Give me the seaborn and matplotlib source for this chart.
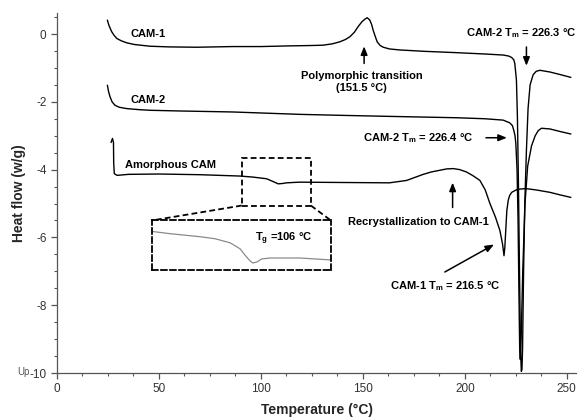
import numpy as np
import pandas as pd
import matplotlib
matplotlib.use("Agg")
import matplotlib.pyplot as plt
from matplotlib.patches import Rectangle
import seaborn as sns

# ---------------- data ----------------
cam1_T = [24.7, 25.5, 26.8, 28, 29.3, 31.5, 34.2, 38, 45.6, 55, 68.5, 86.3, 100, 114, 124,
          130.4, 135, 138.7, 141.5, 143.6, 145.8, 147.7, 149.5, 151, 152.1, 153.4, 154.3, 155,
          156, 157, 158.5, 160, 163, 168, 180, 195.9, 210, 218.8, 221.5, 222.9, 224, 224.5,
          225.3, 225.8, 226.3, 226.8, 227.3, 227.7, 228.0, 228.3, 228.8, 229.4, 230.2, 231,
          232, 233.5, 235, 236.8, 241.7, 247, 252]
cam1_HF = [0.41, 0.25, 0.07, -0.04, -0.13, -0.2, -0.26, -0.31, -0.36, -0.38, -0.39, -0.37,
           -0.37, -0.35, -0.34, -0.33, -0.29, -0.23, -0.16, -0.08, 0.05, 0.22, 0.36, 0.44,
           0.48, 0.41, 0.28, 0.12, -0.06, -0.23, -0.34, -0.39, -0.44, -0.47, -0.51, -0.55,
           -0.59, -0.62, -0.65, -0.69, -0.76, -0.87, -1.36, -2.5, -4.5, -7.0, -9.3, -9.95,
           -9.9, -9.3, -7.0, -5.0, -3.43, -2.2, -1.5, -1.2, -1.1, -1.07, -1.12, -1.2, -1.28]

cam2_T = [24.7, 25.3, 26, 27, 28.4, 30.5, 34.2, 40, 45.6, 60, 86.3, 119, 140, 163.2, 196,
          210, 218.8, 222, 223.3, 224, 224.6, 225, 225.6, 226.1, 226.5, 226.9, 227.2, 227.6,
          228.4, 229.5, 230.8, 232.7, 234.5, 236, 237.6, 241.7, 247, 252]
cam2_HF = [-1.51, -1.7, -1.85, -2.0, -2.1, -2.16, -2.2, -2.23, -2.25, -2.27, -2.3, -2.37,
           -2.4, -2.43, -2.47, -2.5, -2.54, -2.62, -2.7, -2.84, -3.0, -3.23, -4.0, -5.5, -7.5,
           -9.3, -9.6, -9.0, -7.0, -5.0, -3.9, -3.3, -3.0, -2.85, -2.78, -2.8, -2.88, -2.95]

amor_T = [26.5, 27.2, 27.7, 27.8, 28.1, 29.5, 35, 50, 70, 89.7, 96, 102.8, 105.5, 108.5,
          110.5, 112.6, 119, 140, 163, 171.4, 175.5, 179.6, 183.5, 187.7, 191, 194.3, 197.5,
          200.8, 204, 207.4, 210, 212.3, 215, 217.2, 218.5, 219.2, 219.6, 220.1, 220.6,
          221.3, 222, 223, 224.5, 226, 229.9, 235, 241.7, 247, 252]
amor_HF = [-3.2, -3.08, -3.2, -3.8, -4.12, -4.17, -4.14, -4.13, -4.15, -4.19, -4.22, -4.27,
           -4.34, -4.42, -4.41, -4.39, -4.37, -4.38, -4.39, -4.32, -4.23, -4.14, -4.07, -4.02,
           -3.98, -3.97, -4.0, -4.07, -4.18, -4.32, -4.6, -5.0, -5.4, -5.8, -6.2, -6.54, -6.3,
           -5.75, -5.2, -4.9, -4.76, -4.67, -4.62, -4.58, -4.56, -4.6, -4.67, -4.75, -4.82]

# magnified glass-transition region of amorphous CAM (inset)
inset_T = [90.8, 94.0, 99.7, 102.5, 105.4, 107.3, 108.2, 109.2, 109.7, 110.5, 111.4, 113.0,
           118.6, 124.5]
inset_HF = [-4.212, -4.228, -4.251, -4.266, -4.297, -4.343, -4.389, -4.435, -4.450, -4.442,
            -4.419, -4.412, -4.412, -4.427]

curve_labels = ["CAM-1", "CAM-2", "Amorphous CAM"]
x_ticks = [0, 50, 100, 150, 200, 250]
y_ticks = [0, -2, -4, -6, -8, -10]

# ---------------- style ----------------
sns.set_style("ticks")
plt.rcParams["font.family"] = ["Liberation Sans", "DejaVu Sans"]
plt.rcParams["axes.unicode_minus"] = False
plt.rcParams["mathtext.fontset"] = "custom"
plt.rcParams["mathtext.rm"] = "Liberation Sans"
plt.rcParams["mathtext.bf"] = "Liberation Sans:bold"

fig = plt.figure(figsize=(5.77, 4.2), dpi=100)
ax = fig.add_axes([57 / 577, 47 / 420, 520 / 577, 360 / 420])

frames = [
    pd.DataFrame({"T": cam1_T, "HF": cam1_HF}),
    pd.DataFrame({"T": cam2_T, "HF": cam2_HF}),
    pd.DataFrame({"T": amor_T, "HF": amor_HF}),
]
for df in frames:
    sns.lineplot(data=df, x="T", y="HF", ax=ax, sort=False, estimator=None,
                 color="black", lw=1.0)

ax.set_xlim(0, 255)
ax.set_ylim(-10, 0.62)
ax.set_xticks(x_ticks)
ax.set_yticks(y_ticks)
ax.set_xticks(np.arange(0, 255, 12.5), minor=True)
ax.set_yticks(np.arange(-10, 0.6, 0.5), minor=True)
ax.tick_params(axis="both", which="major", length=4, width=0.9, color="#555",
               labelsize=8.5, labelcolor="#333")
ax.tick_params(axis="both", which="minor", length=2.5, width=0.8, color="#555")
for s in ["top", "right"]:
    ax.spines[s].set_visible(False)
for s in ["left", "bottom"]:
    ax.spines[s].set_color("#555")
    ax.spines[s].set_linewidth(0.9)

ax.set_xlabel("Temperature (°C)", fontsize=10, fontweight="bold")
ax.set_ylabel("Heat flow (w/g)", fontsize=10, fontweight="bold")
# label centres: x label at ~y=410 px, y label at ~x=20 px
ax.xaxis.set_label_coords(0.5, (373 - 410) / 360 + 0.02)
ax.yaxis.set_label_coords((20 - 57) / 520 + 0.012, 0.5)

# ---------------- annotations ----------------
fs = 8
tkw = dict(fontsize=fs, fontweight="bold", color="black")
ax.text(35.8, 0.0, curve_labels[0], ha="left", va="center", **tkw)
ax.text(35.8, -1.95, curve_labels[1], ha="left", va="center", **tkw)
ax.text(33.3, -3.86, curve_labels[2], ha="left", va="center", **tkw)

ax.text(149.3, -1.43, "Polymorphic transition\n(151.5 °C)", ha="center", va="center",
        linespacing=1.25, **tkw)
arrow = dict(arrowstyle="-|>,head_length=0.5,head_width=0.2", color="black", lw=1.1)
ax.annotate("", xy=(150.6, -0.28), xytext=(150.6, -0.95), arrowprops=arrow)

ax.text(227.5, 0.02, r"CAM-2 T$_\mathbf{m}$ = 226.3 °C", ha="center", va="center", **tkw)
ax.annotate("", xy=(230.2, -1.02), xytext=(230.2, -0.3), arrowprops=arrow)

ax.text(177.0, -3.06, r"CAM-2 T$_\mathbf{m}$ = 226.4 °C", ha="center", va="center", **tkw)
ax.annotate("", xy=(222.0, -3.06), xytext=(209.0, -3.06), arrowprops=arrow)

ax.text(177.1, -5.55, "Recrystallization to CAM-1", ha="center", va="center", **tkw)
ax.annotate("", xy=(194.0, -4.3), xytext=(194.0, -5.2), arrowprops=arrow)

ax.text(190.4, -7.43, r"CAM-1 T$_\mathbf{m}$ = 216.5 °C", ha="center", va="center", **tkw)
ax.annotate("", xy=(215.5, -6.17), xytext=(189.0, -7.06), arrowprops=arrow)

# zoom box + connectors
dash = (0, (3.2, 1.8))
ax.add_patch(Rectangle((90.6, -5.06), 33.9, 1.39, fill=False, ec="black", lw=1.3,
                       ls=dash, zorder=3))
ax.plot([90.6, 46.6], [-5.06, -5.5], color="black", lw=1.3, ls=dash)
ax.plot([124.5, 134.3], [-5.06, -5.5], color="black", lw=1.3, ls=dash)

ins = ax.inset_axes([46.6, -6.95, 87.7, 1.45], transform=ax.transData)
sns.lineplot(x=inset_T, y=inset_HF, ax=ins, sort=False, estimator=None,
             color="#8a8a8a", lw=0.9)
ins.set_xlim(90.6, 124.5)
ins.set_ylim(-4.50, -4.128)
ins.set_xticks([])
ins.set_yticks([])
ins.set_xlabel("")
ins.set_ylabel("")
ins.patch.set_alpha(0)
for s in ins.spines.values():
    s.set_visible(True)
    s.set_linestyle(dash)
    s.set_linewidth(1.3)
    s.set_color("black")
ax.text(111.0, -6.04, r"T$_\mathbf{g}$ =106 °C", ha="center", va="center", **tkw)

fig.text(17 / 577, 1 - 372 / 420, "Up", fontsize=7, color="#555", ha="left", va="center")

fig.savefig("out.png", dpi=100)
